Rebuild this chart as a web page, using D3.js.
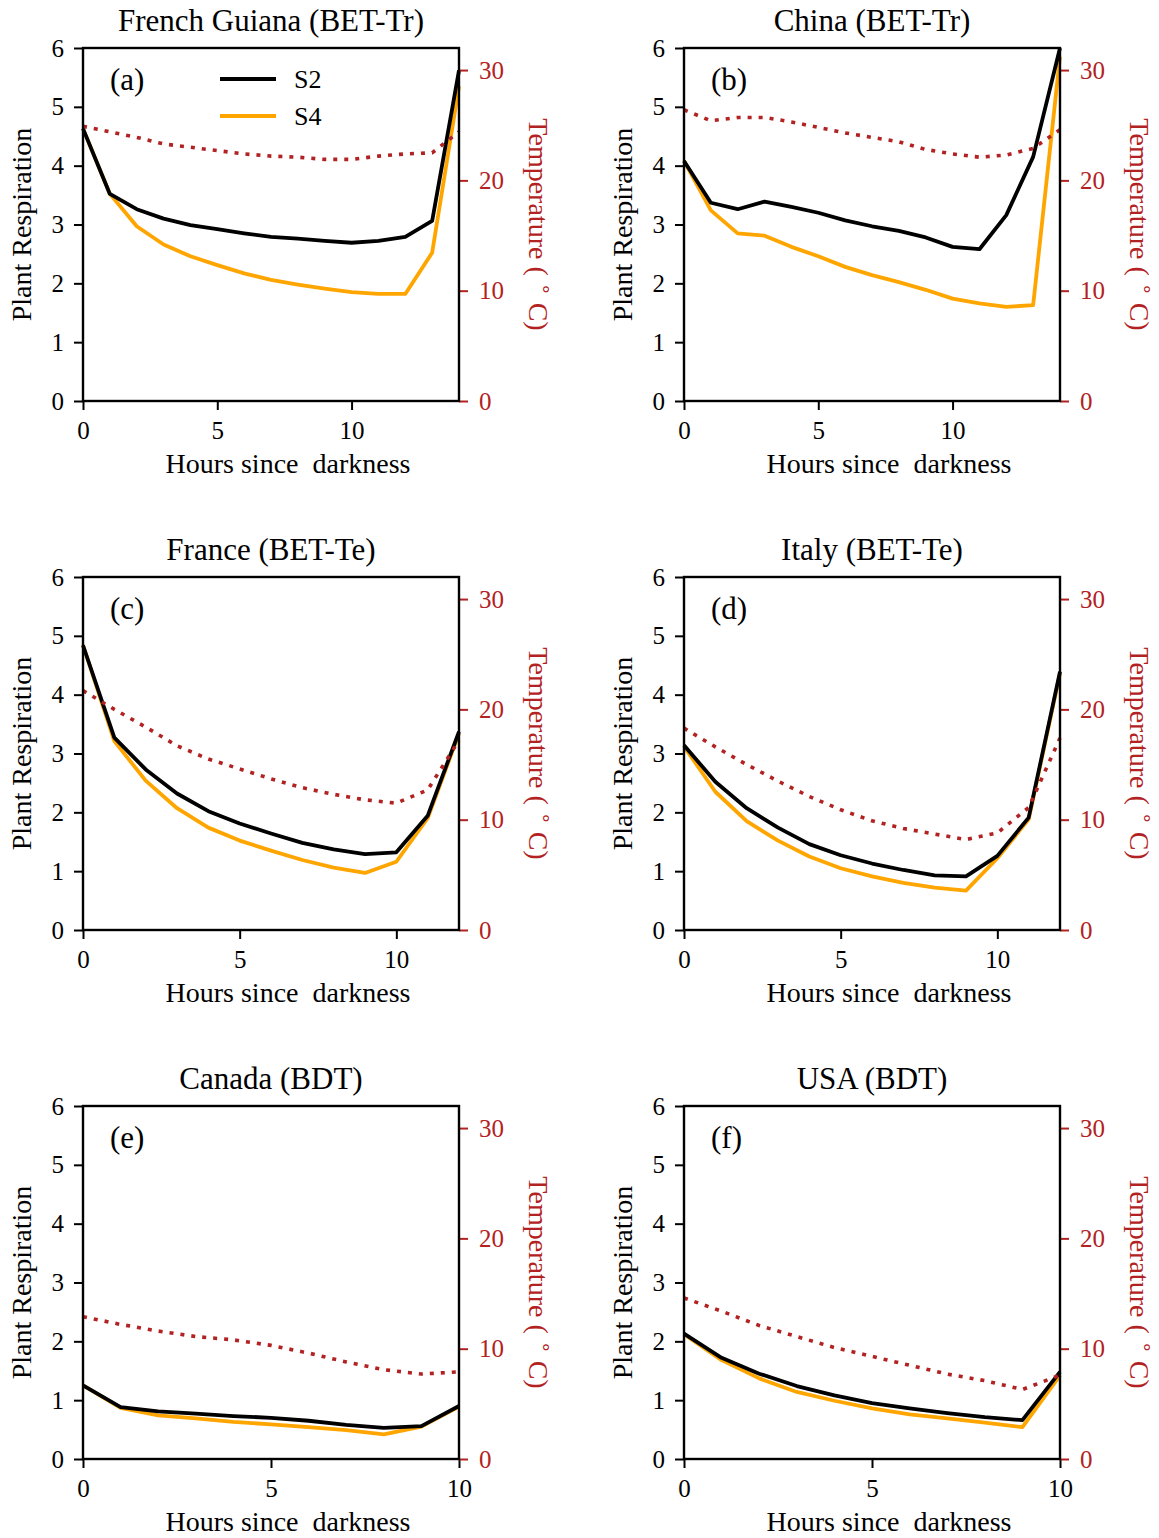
<!DOCTYPE html>
<html>
<head>
<meta charset="utf-8">
<script src="https://cdn.jsdelivr.net/npm/d3@7/dist/d3.min.js"></script>
<style>
  body { margin: 0; background: #fff; }
  svg { display: block; }
  text { font-family: "Liberation Serif", "Times New Roman", Times, serif; }
</style>
</head>
<body>
<svg id="chart" width="1159" height="1538"></svg>
<script>
// Panel titles and sub-panel letters
const titles  = ["French Guiana (BET-Tr)", "China (BET-Tr)", "France (BET-Te)", "Italy (BET-Te)", "Canada (BDT)", "USA (BDT)"];
const letters = ["(a)", "(b)", "(c)", "(d)", "(e)", "(f)"];

// Hours since darkness for each site
const hoursFrenchGuiana = [0, 1, 2, 3, 4, 5, 6, 7, 8, 9, 10, 11, 12, 13, 14];
const hoursChina        = [0, 1, 2, 3, 4, 5, 6, 7, 8, 9, 10, 11, 12, 13, 14];
const hoursFrance       = [0, 1, 2, 3, 4, 5, 6, 7, 8, 9, 10, 11, 12];
const hoursItaly        = [0, 1, 2, 3, 4, 5, 6, 7, 8, 9, 10, 11, 12];
const hoursCanada       = [0, 1, 2, 3, 4, 5, 6, 7, 8, 9, 10];
const hoursUSA          = [0, 1, 2, 3, 4, 5, 6, 7, 8, 9, 10];

// Plant respiration, experiment S2
const s2FrenchGuiana = [4.63, 3.52, 3.26, 3.10, 2.99, 2.92, 2.85, 2.79, 2.76, 2.72, 2.69, 2.72, 2.79, 3.06, 5.62];
const s2China        = [4.08, 3.37, 3.26, 3.39, 3.30, 3.20, 3.07, 2.97, 2.89, 2.78, 2.62, 2.58, 3.16, 4.15, 6.00];
const s2France       = [4.84, 3.27, 2.73, 2.32, 2.02, 1.81, 1.64, 1.48, 1.37, 1.29, 1.32, 1.94, 3.37];
const s2Italy        = [3.14, 2.52, 2.07, 1.74, 1.46, 1.27, 1.13, 1.02, 0.93, 0.91, 1.26, 1.91, 4.39];
const s2Canada       = [1.25, 0.88, 0.81, 0.77, 0.73, 0.70, 0.65, 0.58, 0.53, 0.56, 0.90];
const s2USA          = [2.13, 1.72, 1.45, 1.24, 1.08, 0.95, 0.86, 0.78, 0.71, 0.66, 1.48];

// Plant respiration, experiment S4
const s4FrenchGuiana = [4.63, 3.52, 2.97, 2.66, 2.46, 2.31, 2.17, 2.06, 1.98, 1.91, 1.85, 1.82, 1.82, 2.52, 5.35];
const s4China        = [4.08, 3.24, 2.85, 2.81, 2.62, 2.46, 2.28, 2.14, 2.02, 1.89, 1.74, 1.66, 1.60, 1.63, 5.85];
const s4France       = [4.84, 3.21, 2.54, 2.07, 1.74, 1.52, 1.35, 1.19, 1.06, 0.97, 1.16, 1.90, 3.34];
const s4Italy        = [3.12, 2.35, 1.85, 1.52, 1.25, 1.05, 0.91, 0.80, 0.72, 0.67, 1.22, 1.88, 4.36];
const s4Canada       = [1.25, 0.87, 0.74, 0.69, 0.63, 0.59, 0.54, 0.49, 0.42, 0.55, 0.89];
const s4USA          = [2.12, 1.68, 1.37, 1.14, 0.99, 0.86, 0.76, 0.69, 0.62, 0.54, 1.42];

// Air temperature (°C)
const tempFrenchGuiana = [24.9, 24.4, 23.9, 23.3, 23.0, 22.7, 22.4, 22.2, 22.1, 21.9, 21.9, 22.2, 22.4, 22.5, 24.4];
const tempChina        = [26.4, 25.4, 25.7, 25.7, 25.3, 24.8, 24.3, 23.9, 23.5, 22.8, 22.4, 22.1, 22.3, 22.9, 24.6];
const tempFrance       = [21.7, 20.0, 18.4, 16.7, 15.5, 14.6, 13.7, 12.9, 12.3, 11.8, 11.5, 12.7, 17.2];
const tempItaly        = [18.3, 16.6, 15.0, 13.5, 12.1, 10.9, 9.9, 9.2, 8.7, 8.2, 8.8, 11.1, 17.4];
const tempCanada       = [12.9, 12.2, 11.6, 11.1, 10.8, 10.3, 9.6, 8.8, 8.1, 7.7, 7.9];
const tempUSA          = [14.6, 13.4, 12.1, 11.1, 10.1, 9.3, 8.5, 7.7, 7.1, 6.3, 7.6];

// Axis ticks and labels
const respTicks = [0, 1, 2, 3, 4, 5, 6];
const tempTicks = [0, 10, 20, 30];
const hourTicks = [0, 5, 10];
const legendLabels = ["S2", "S4"];
const xLabel = "Hours since\u00a0 darkness";
const yLabel = "Plant Respiration";

const panels = [
  { hours: hoursFrenchGuiana, s2: s2FrenchGuiana, s4: s4FrenchGuiana, temp: tempFrenchGuiana },
  { hours: hoursChina,        s2: s2China,        s4: s4China,        temp: tempChina },
  { hours: hoursFrance,       s2: s2France,       s4: s4France,       temp: tempFrance },
  { hours: hoursItaly,        s2: s2Italy,        s4: s4Italy,        temp: tempItaly },
  { hours: hoursCanada,       s2: s2Canada,       s4: s4Canada,       temp: tempCanada },
  { hours: hoursUSA,          s2: s2USA,          s4: s4USA,          temp: tempUSA }
];

const RED = "#b22222", ORANGE = "#ffa500", BLACK = "#000";
const colX = [83, 684], rowY = [48, 577, 1106];
const W = 376, H = 353;

const svg = d3.select("#chart");

panels.forEach((p, i) => {
  const x0 = colX[i % 2], y0 = rowY[Math.floor(i / 2)];
  const g = svg.append("g").attr("transform", `translate(${x0},${y0})`);

  const x = d3.scaleLinear().domain([0, p.hours[p.hours.length - 1]]).range([0, W]);
  const yL = d3.scaleLinear().domain([0, 6]).range([H, 0]);
  const yR = d3.scaleLinear().domain([0, 32]).range([H, 0]);

  // Respiration lines: S4 underneath, S2 on top
  const lineL = d3.line().x((d, k) => x(p.hours[k])).y(d => yL(d));
  g.append("path").datum(p.s4).attr("d", lineL)
    .attr("fill", "none").attr("stroke", ORANGE).attr("stroke-width", 3.8).attr("stroke-linejoin", "round");
  g.append("path").datum(p.s2).attr("d", lineL)
    .attr("fill", "none").attr("stroke", BLACK).attr("stroke-width", 3.8).attr("stroke-linejoin", "round");

  // Temperature on the right axis, dotted
  const lineR = d3.line().x((d, k) => x(p.hours[k])).y(d => yR(d));
  g.append("path").datum(p.temp).attr("d", lineR)
    .attr("fill", "none").attr("stroke", RED).attr("stroke-width", 3.6)
    .attr("stroke-dasharray", "4 7");

  // Left axis
  const axL = g.append("g").call(d3.axisLeft(yL).tickValues(respTicks).tickSize(9).tickPadding(10).tickFormat(d3.format("d")));
  // Bottom axis
  const axB = g.append("g").attr("transform", `translate(0,${H})`)
    .call(d3.axisBottom(x).tickValues(hourTicks).tickSize(9).tickPadding(11).tickFormat(d3.format("d")));
  // Right axis (temperature)
  const axR = g.append("g").attr("transform", `translate(${W},0)`)
    .call(d3.axisRight(yR).tickValues(tempTicks).tickSize(9).tickPadding(11).tickFormat(d3.format("d")));

  [axL, axB, axR].forEach(a => {
    a.select(".domain").remove();
    a.selectAll("text").attr("font-size", 25).attr("font-family", '"Liberation Serif", serif');
    a.selectAll("line").attr("stroke-width", 2);
  });
  axL.selectAll("text").attr("fill", BLACK);
  axB.selectAll("text").attr("fill", BLACK);
  axR.selectAll("line").attr("stroke", RED);
  axR.selectAll("text").attr("fill", RED);

  // Frame
  g.append("rect").attr("x", 0).attr("y", 0).attr("width", W).attr("height", H)
    .attr("fill", "none").attr("stroke", BLACK).attr("stroke-width", 2.4);

  // Title
  g.append("text").attr("x", W / 2).attr("y", -17).attr("text-anchor", "middle")
    .attr("font-size", 31).text(titles[i]);

  // Panel letter
  g.append("text").attr("x", 27).attr("y", 42).attr("font-size", 31).text(letters[i]);

  // Axis labels
  g.append("text").attr("x", W / 2 + 17).attr("y", H + 72).attr("text-anchor", "middle")
    .attr("font-size", 28).style("white-space", "pre").text(xLabel);
  g.append("text").attr("transform", `translate(-52,${H / 2}) rotate(-90)`)
    .attr("text-anchor", "middle").attr("font-size", 28).text(yLabel);
  const tl = g.append("text").attr("transform", `translate(${W + 70},${H / 2}) rotate(90)`)
    .attr("text-anchor", "middle").attr("font-size", 28).attr("fill", RED);
  tl.append("tspan").text("Temperature ( ");
  tl.append("tspan").attr("font-size", 20).attr("dy", -10).text("\u2218");
  tl.append("tspan").attr("dy", 10).text(" C)");

  // Legend (first panel only)
  if (i === 0) {
    const lg = g.append("g");
    [BLACK, ORANGE].forEach((c, k) => {
      const ly = 31 + k * 37;
      lg.append("line").attr("x1", 137).attr("x2", 193).attr("y1", ly).attr("y2", ly)
        .attr("stroke", c).attr("stroke-width", 4);
      lg.append("text").attr("x", 211).attr("y", ly + 9).attr("font-size", 26).text(legendLabels[k]);
    });
  }
});
</script>
</body>
</html>
